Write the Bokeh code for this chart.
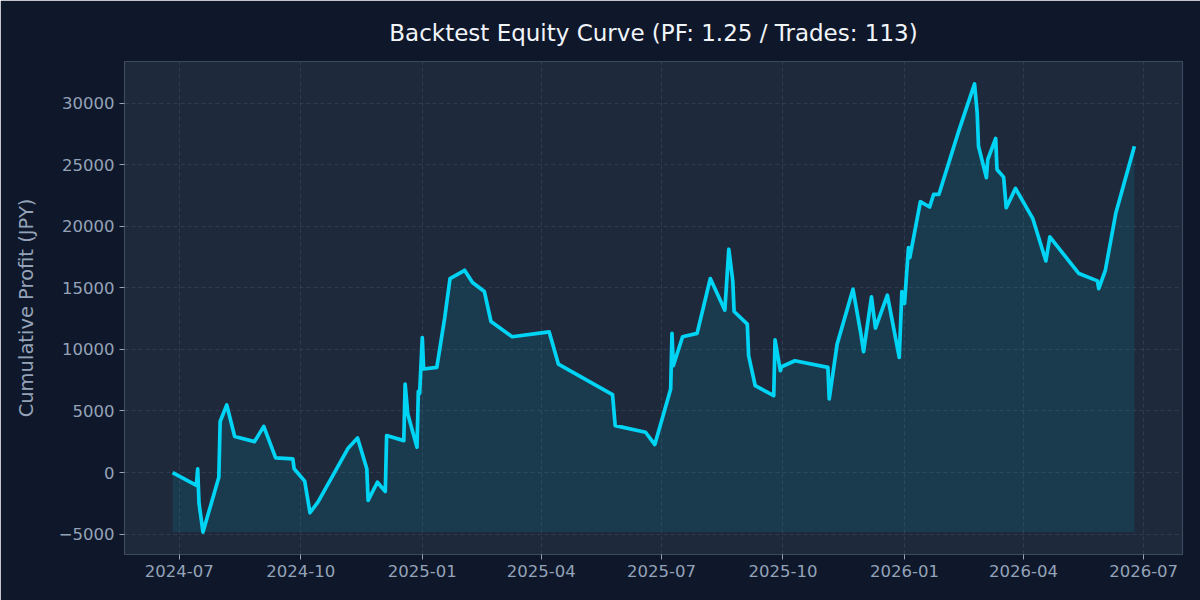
import pandas as pd
from bokeh.plotting import figure
from bokeh.models import FixedTicker, DatetimeTickFormatter, ColumnDataSource
from bokeh.embed import file_html
from bokeh.resources import INLINE

title_text = "Backtest Equity Curve (PF: 1.25 / Trades: 113)"
y_label = "Cumulative Profit (JPY)"

trade_dates = [
    "2024-06-26", "2024-07-14", "2024-07-15", "2024-07-16", "2024-07-19", "2024-07-31",
    "2024-08-01", "2024-08-06", "2024-08-12", "2024-08-27", "2024-09-03", "2024-09-12",
    "2024-09-25", "2024-09-26", "2024-10-04", "2024-10-08", "2024-10-14", "2024-11-06",
    "2024-11-13", "2024-11-20", "2024-11-21", "2024-11-28", "2024-12-04", "2024-12-05",
    "2024-12-18", "2024-12-19", "2024-12-21", "2024-12-28", "2024-12-29", "2024-12-30",
    "2025-01-01", "2025-01-02", "2025-01-12", "2025-01-18", "2025-01-22", "2025-02-02",
    "2025-02-08", "2025-02-17", "2025-02-22", "2025-03-10", "2025-04-07", "2025-04-14",
    "2025-05-25", "2025-05-27", "2025-06-19", "2025-06-26", "2025-07-08", "2025-07-09",
    "2025-07-10", "2025-07-17", "2025-07-28", "2025-08-07", "2025-08-18", "2025-08-21",
    "2025-08-24", "2025-08-25", "2025-09-04", "2025-09-05", "2025-09-10", "2025-09-24",
    "2025-09-25", "2025-09-29", "2025-09-30", "2025-10-10", "2025-11-04", "2025-11-05",
    "2025-11-11", "2025-11-23", "2025-11-29", "2025-12-01", "2025-12-07", "2025-12-10",
    "2025-12-19", "2025-12-28", "2025-12-30", "2026-01-01", "2026-01-04", "2026-01-05",
    "2026-01-13", "2026-01-20", "2026-01-23", "2026-01-27", "2026-02-11", "2026-02-23",
    "2026-02-25", "2026-02-26", "2026-03-04", "2026-03-05", "2026-03-11", "2026-03-12",
    "2026-03-17", "2026-03-19", "2026-03-26", "2026-04-08", "2026-04-18", "2026-04-21",
    "2026-05-13", "2026-05-27", "2026-05-28", "2026-06-02", "2026-06-10", "2026-06-24",
]
cum_profit = [
    0, -1050, 300, -2500, -4840, -380,
    4140, 5490, 2920, 2510, 3750, 1190,
    1110, 300, -700, -3270, -2400, 2000,
    2810, 300, -2270, -790, -1540, 3000,
    2590, 7190, 4760, 2050, 6590, 6430,
    10970, 8410, 8540, 12590, 15760, 16430,
    15430, 14700, 12270, 11030, 11430, 8810,
    6320, 3810, 3270, 2270, 6790, 11300,
    8680, 11030, 11300, 15760, 13190, 18140,
    15570, 13080, 12050, 9490, 7050, 6240,
    10780, 8270, 8590, 9080, 8540, 5980,
    10430, 14890, 11240, 9810, 14270, 11730,
    14410, 9350, 14700, 13730, 18270, 17460,
    22000, 21570, 22590, 22590, 27730, 31570,
    29220, 26510, 23950, 25430, 27140, 24620,
    24000, 21510, 23080, 20650, 17190, 19140,
    16160, 15570, 14940, 16430, 21100, 26510,
]
x_tick_dates = ["2024-07-01", "2024-10-01", "2025-01-01", "2025-04-01", "2025-07-01",
                "2025-10-01", "2026-01-01", "2026-04-01", "2026-07-01"]
y_ticks = [-5000, 0, 5000, 10000, 15000, 20000, 25000, 30000]

dates = pd.to_datetime(trade_dates)
base = min(cum_profit)
src = ColumnDataSource(dict(x=dates, y=cum_profit, base=[base] * len(cum_profit)))

span_days = (dates[-1] - dates[0])
x_start = dates[0] - span_days * 0.05
x_end = dates[-1] + span_days * 0.05
yr = max(cum_profit) - base
y_start = base - 0.05 * yr
y_end = max(cum_profit) + 0.05 * yr

BG = "#0f172a"
PANEL = "#1e293b"
TEXT = "#94a3b8"
LINE = "#00d4f5"

p = figure(width=1200, height=600, x_axis_type="datetime", output_backend="svg",
           toolbar_location=None, x_range=(x_start, x_end), y_range=(y_start, y_end),
           background_fill_color=PANEL, border_fill_color=BG,
           min_border_left=124, min_border_right=18, min_border_top=61, min_border_bottom=46)

p.title.text = title_text
p.title.align = "center"
p.title.text_color = "#f1f5f9"
p.title.text_font = "DejaVu Sans"
p.title.text_font_size = "23px"
p.title.text_font_style = "normal"
p.title.offset = 0
p.title.standoff = 32

p.outline_line_color = "#3a4a60"
p.outline_line_width = 1.2

p.varea(x="x", y1="base", y2="y", source=src, fill_color=LINE, fill_alpha=0.1)
p.line(x="x", y="y", source=src, line_color=LINE, line_width=3.7, line_join="round")

for ax in (p.xaxis[0], p.yaxis[0]):
    ax.axis_line_color = None
    ax.major_tick_line_color = "#94a3b8"
    ax.major_tick_out = 5
    ax.major_tick_in = 0
    ax.minor_tick_line_color = None
    ax.major_label_text_color = TEXT
    ax.major_label_text_font = "DejaVu Sans"
    ax.major_label_text_font_size = "16.5px"
    ax.major_label_standoff = 5

p.xaxis.ticker = FixedTicker(ticks=[pd.Timestamp(d).value // 10**6 for d in x_tick_dates])
p.xaxis.formatter = DatetimeTickFormatter(years="%Y-%m", months="%Y-%m", days="%Y-%m",
                                          hours="%Y-%m", minutes="%Y-%m", seconds="%Y-%m")
p.yaxis.ticker = FixedTicker(ticks=y_ticks)
p.yaxis.major_label_overrides = {v: (str(v).replace("-", "\u2212")) for v in y_ticks}

p.yaxis.axis_label = y_label
p.yaxis.axis_label_text_color = TEXT
p.yaxis.axis_label_text_font = "DejaVu Sans"
p.yaxis.axis_label_text_font_size = "19.5px"
p.yaxis.axis_label_text_font_style = "normal"
p.yaxis.axis_label_standoff = 18

p.grid.grid_line_color = "#334155"
p.grid.grid_line_dash = "4 3"
p.grid.grid_line_alpha = 0.8
p.grid.grid_line_width = 1

open("out.html", "w").write(file_html(p, INLINE))
